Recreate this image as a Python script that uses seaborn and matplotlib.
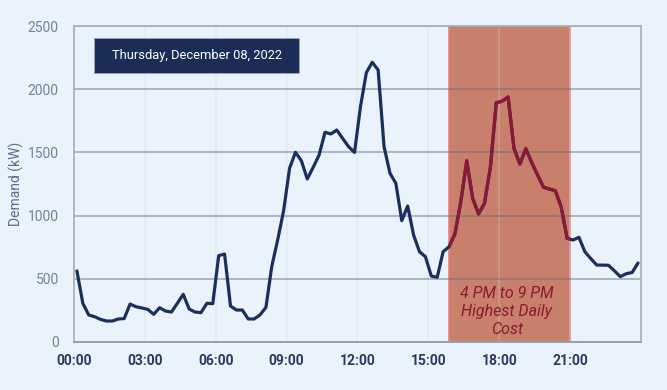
import numpy as np
import pandas as pd
import matplotlib
matplotlib.use("Agg")
import matplotlib.pyplot as plt
import seaborn as sns

# 15-minute interval demand (kW), 96 intervals over the day
demand_kw = [
    562, 306, 214, 200, 179, 166, 166, 182, 185, 300,
    279, 269, 258, 219, 271, 245, 237, 306, 377, 261,
    237, 232, 306, 303, 683, 696, 285, 253, 253, 182,
    182, 214, 274, 600, 810, 1040, 1374, 1501, 1434, 1290,
    1382, 1479, 1659, 1646, 1677, 1610, 1545, 1500, 1860, 2131,
    2213, 2152, 1545, 1335, 1255, 960, 1076, 846, 714, 675,
    522, 512, 714, 754, 855, 1110, 1434, 1137, 1013, 1097,
    1382, 1893, 1905, 1938, 1532, 1408, 1529, 1420, 1320, 1224,
    1210, 1197, 1066, 820, 807, 828, 714, 660, 609, 608,
    607, 563, 517, 540, 550, 625,
]
interval_hours = [(k + 0.5) / 4 for k in range(len(demand_kw))]

tick_hours = [0, 3, 6, 9, 12, 15, 18, 21]
tick_labels = ["00:00", "03:00", "06:00", "09:00", "12:00", "15:00", "18:00", "21:00"]
y_ticks = [0, 500, 1000, 1500, 2000, 2500]

peak_start, peak_end = 15.875, 21.0
date_label = "Thursday, December 08, 2022"
peak_label = "4 PM to 9 PM\nHighest Daily\nCost"

df = pd.DataFrame({"hour": interval_hours, "demand": demand_kw})

BG = "#eaf3fb"
NAVY = "#1b2f5c"
MAROON = "#8c1838"
SHADE = "#c8806c"

sns.set_theme(style="white")
plt.rcParams["font.family"] = ["Roboto", "DejaVu Sans"]

fig = plt.figure(figsize=(6.67, 3.9), dpi=100, facecolor=BG)
ax = fig.add_axes([0.1109, 0.1231, 0.8501, 0.8102])
ax.set_facecolor(BG)

# peak-cost window
span = ax.axvspan(peak_start, peak_end, facecolor=SHADE, edgecolor="#ee7f7f",
                  linewidth=1.2, zorder=0.2)

sns.lineplot(data=df, x="hour", y="demand", ax=ax, color=NAVY, linewidth=2.3, zorder=3)
sns.lineplot(data=df, x="hour", y="demand", ax=ax, color=MAROON, linewidth=2.3, zorder=4)
ax.lines[-1].set_clip_path(span)

ax.set_xlim(0, 24)
ax.set_ylim(0, 2500)
ax.set_xticks(tick_hours)
ax.set_xticklabels(tick_labels)
ax.set_yticks(y_ticks)

ax.set_axisbelow(True)
ax.grid(axis="y", color="#6a6e74", alpha=0.55, linewidth=1.2)
ax.grid(axis="x", color="#d0d6de", alpha=0.3, linewidth=1.2)

for side in ["left", "right", "top"]:
    ax.spines[side].set_color("#a8adb3")
    ax.spines[side].set_linewidth(1.2)
ax.spines["bottom"].set_color("#9a9fa6")
ax.spines["bottom"].set_linewidth(1.4)

ax.tick_params(axis="both", length=0)
ax.tick_params(axis="y", pad=11, labelsize=10, labelcolor="#75819a")
ax.tick_params(axis="x", pad=8.5, labelsize=10, labelcolor="#2b3a5e")
for lbl in ax.get_xticklabels():
    lbl.set_fontweight("bold")

ax.set_xlabel("")
ax.set_ylabel("Demand (kW)", fontsize=10, color="#5a6b8c", labelpad=3)

# date badge
ax.add_patch(plt.Rectangle((0.0353, 0.851), 0.3617, 0.111, transform=ax.transAxes,
                           facecolor="#1b2d57", edgecolor="#9aa6bb", linewidth=0.6,
                           zorder=5))
ax.text(0.0353 + 0.3617 / 2, 0.851 + 0.111 / 2, date_label, transform=ax.transAxes,
        ha="center", va="center", color="white", fontsize=9.3, zorder=6)

ax.text(18.32, 240, peak_label, ha="center", va="center",
        fontsize=11.5, style="italic", color="#8b1a2e", linespacing=1.25, zorder=6)

fig.savefig("out.png", dpi=100, facecolor=BG)
